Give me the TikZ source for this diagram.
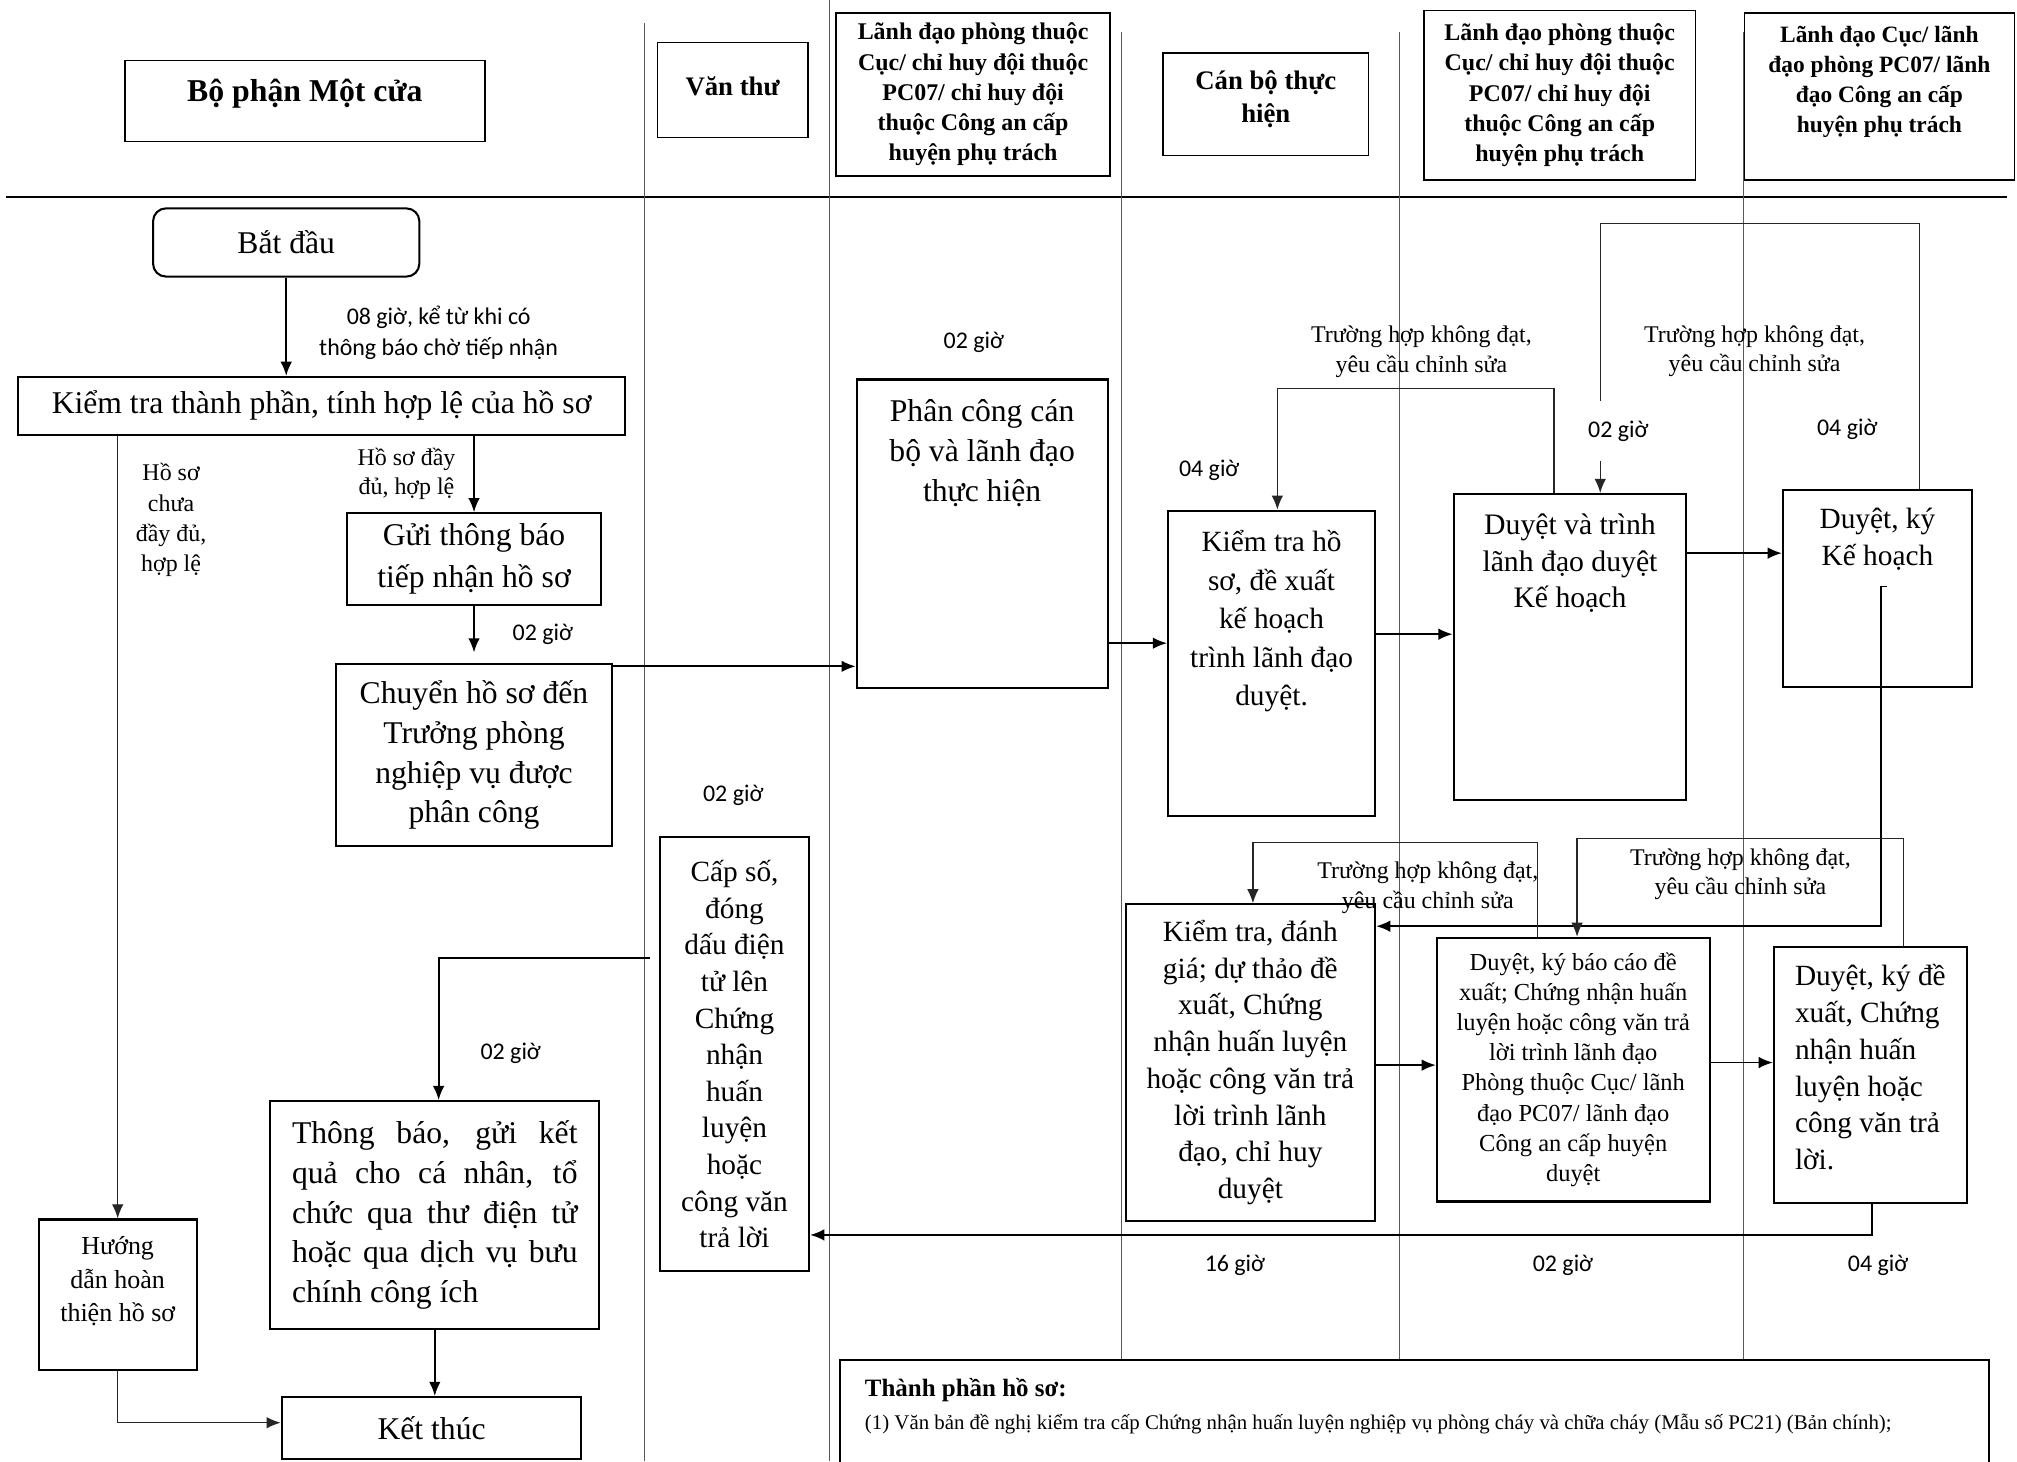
\documentclass[tikz,border=0pt]{standalone}
\usepackage{fontspec}
\setmainfont{Liberation Serif}
\newfontfamily\calfont{Carlito}
\usetikzlibrary{arrows.meta}
\setlength\parindent{0pt}
% push a centred text block upwards inside its box
\newcommand\raiseblock[1]{\rule[-#1]{0pt}{0pt}}
\begin{document}
\begin{tikzpicture}[x=0.5pt,y=-0.5pt,
  box/.style={draw, line width=0.8pt, inner sep=0pt, align=center, fill=white},
  head/.style={box, line width=0.6pt, font=\bfseries\fontsize{9.3}{11.75}\selectfont},
  lane/.style={draw=black!65, line width=0.4pt},
  flow/.style={line width=0.7pt, -{Latex[length=5.5pt,width=4.5pt]}},
  backflow/.style={line width=0.5pt, draw=black!85, -{Latex[length=5.5pt,width=4.5pt]}},
  hourlbl/.style={font=\calfont\fontsize{9.3}{12}\selectfont, inner sep=1pt, align=center},
  revnote/.style={font=\fontsize{9.3}{11.5}\selectfont, align=center, inner sep=0pt},
]
\useasboundingbox (0,0) rectangle (1568,1136);

% ---- swimlane grid ----
\draw[line width=0.7pt] (5,153) -- (1560,153);
\draw[lane] (501,18) -- (501,1136);
\draw[lane] (645,0) -- (645,1136);
\draw[lane] (872,25) -- (872,1057);
\draw[lane] (1088,25) -- (1088,1057);
\draw[lane] (1355,25) -- (1355,1057);

% ---- lane headers ----
\node[head, font=\bfseries\fontsize{12.35}{14}\selectfont, minimum width=140pt, minimum height=31.5pt] (h1) at (237,78.5) {Bộ phận Một cửa\raiseblock{8pt}};
\node[head, font=\bfseries\fontsize{10.4}{13}\selectfont, minimum width=58.5pt, minimum height=37pt] (h2) at (569.5,70) {Văn thư\raiseblock{3pt}};
\node[head, minimum width=106.5pt, minimum height=63.5pt] (h3) at (756.5,73.5) {Lãnh đạo phòng thuộc\\Cục/ chỉ huy đội thuộc\\PC07/ chỉ huy đội\\thuộc Công an cấp\\huyện phụ trách};
\node[head, font=\bfseries\fontsize{10.4}{13}\selectfont, minimum width=80pt, minimum height=40pt] (h4) at (984,81) {Cán bộ thực\\hiện\raiseblock{6pt}};
\node[head, minimum width=105.5pt, minimum height=66pt] (h5) at (1212.5,74) {Lãnh đạo phòng thuộc\\Cục/ chỉ huy đội thuộc\\PC07/ chỉ huy đội\\thuộc Công an cấp\\huyện phụ trách};
\node[head, font=\bfseries\fontsize{9.1}{11.65}\selectfont, minimum width=105pt, minimum height=65pt] (h6) at (1461,75) {Lãnh đạo Cục/ lãnh\\đạo phòng PC07/ lãnh\\đạo Công an cấp\\huyện phụ trách\raiseblock{13pt}};

% ---- process steps ----
\node[box, rounded corners=5pt, font=\fontsize{12.3}{15}\selectfont, minimum width=103.5pt, minimum height=26.5pt] (start) at (222.5,188.5) {Bắt đầu};
\node[box, font=\fontsize{12.3}{15}\selectfont, minimum width=236pt, minimum height=22.5pt] (check) at (250,315.5) {Kiểm tra thành phần, tính hợp lệ của hồ sơ};
\node[box, font=\fontsize{12.3}{16}\selectfont, minimum width=98.5pt, minimum height=35.5pt] (notify) at (368.5,434.5) {Gửi thông báo\\tiếp nhận hồ sơ};
\node[box, font=\fontsize{12.3}{15.5}\selectfont, minimum width=107.5pt, minimum height=71pt] (forward) at (368.5,587) {Chuyển hồ sơ đến\\Trưởng phòng\\nghiệp vụ được\\phân công};
\node[box, font=\fontsize{12.3}{15.5}\selectfont, minimum width=97.5pt, minimum height=120pt] (assign) at (763.5,415) {Phân công cán\\bộ và lãnh đạo\\thực hiện\raiseblock{65pt}};
\node[box, font=\fontsize{11.4}{15}\selectfont, minimum width=80.5pt, minimum height=118.5pt] (review) at (988.5,515.5) {Kiểm tra hồ\\sơ, đề xuất\\kế hoạch\\trình lãnh đạo\\duyệt.\raiseblock{35pt}};
\node[box, font=\fontsize{11.55}{14.25}\selectfont, minimum width=90.5pt, minimum height=119pt] (submit) at (1220.5,503) {Duyệt và trình\\lãnh đạo duyệt\\Kế hoạch\raiseblock{67pt}};
\node[box, font=\fontsize{11.4}{14.5}\selectfont, minimum width=73.5pt, minimum height=76.5pt] (signplan) at (1459.5,457.5) {Duyệt, ký\\Kế hoạch\raiseblock{40pt}};
\node[box, font=\fontsize{11.4}{14.3}\selectfont, minimum width=97pt, minimum height=123pt] (assess) at (972,826) {Kiểm tra, đánh\\giá; dự thảo đề\\xuất, Chứng\\nhận huấn luyện\\hoặc công văn trả\\lời trình lãnh\\đạo, chỉ huy\\duyệt};
\node[box, font=\fontsize{9.5}{11.75}\selectfont, minimum width=106pt, minimum height=102.5pt] (report) at (1223,831.5) {Duyệt, ký báo cáo đề\\xuất; Chứng nhận huấn\\luyện hoặc công văn trả\\lời trình lãnh đạo\\Phòng thuộc Cục/ lãnh\\đạo PC07/ lãnh đạo\\Công an cấp huyện\\duyệt};
\node[box, font=\fontsize{11.4}{14.3}\selectfont, minimum width=75pt, minimum height=99.5pt, align=left] (signcert) at (1454,835.5) {Duyệt, ký đề\\xuất, Chứng\\nhận huấn\\luyện hoặc\\công văn trả\\lời.\raiseblock{6pt}};
\node[box, font=\fontsize{11.4}{14.25}\selectfont, minimum width=58pt, minimum height=168.5pt] (stamp) at (571,819.5) {Cấp số,\\đóng\\dấu điện\\tử lên\\Chứng\\nhận\\huấn\\luyện\\hoặc\\công văn\\trả lời};
\node[box, font=\fontsize{12.3}{15.5}\selectfont, minimum width=128pt, minimum height=88.5pt, align=justify, text width=111pt] (result) at (338,944.5) {Thông báo, gửi kết\linebreak quả cho cá nhân, tổ\linebreak chức qua thư điện tử\linebreak hoặc qua dịch vụ bưu\linebreak chính công ích};
\node[box, font=\fontsize{12.3}{15}\selectfont, minimum width=116.5pt, minimum height=24pt] (finish) at (335.5,1110) {Kết thúc};
\node[box, font=\fontsize{10.1}{13}\selectfont, minimum width=61.5pt, minimum height=58.5pt] (guide) at (91.5,1006.5) {Hướng\\dẫn hoàn\\thiện hồ sơ\raiseblock{12pt}};

% ---- document list ----
\node[box, minimum width=446.5pt, minimum height=46.5pt] (docs) at (1099.5,1103.5) {};
\node[anchor=west, inner sep=0pt, font=\bfseries\fontsize{9.7}{11}\selectfont] (docstitle) at (672,1081) {Thành phần hồ sơ:};
\node[anchor=west, inner sep=0pt, font=\fontsize{8.1}{10}\selectfont] (docsitem) at (672,1107) {(1) Văn bản đề nghị kiểm tra cấp Chứng nhận huấn luyện nghiệp vụ phòng cháy và chữa cháy (Mẫu số PC21) (Bản chính);};

% ---- connectors ----
\coordinate (planout) at (1462,456);
\coordinate (stampout) at (505,745);

\draw[flow] (start.south) -- (start.south |- check.north);
\draw[backflow] (guide.north |- check.south) -- (guide.north);
\draw[flow] (notify.north |- check.south) -- (notify.north);
\draw[flow, shorten >=4pt] (notify.south) -- (forward.north);
\draw[flow] (forward.north east |- 0,518) -- (assign.west |- 0,518);
\draw[flow] (assign.east |- 0,500) -- (review.west |- 0,500);
\draw[flow] (review.east |- 0,493) -- (submit.west |- 0,493);
\draw[backflow] (submit.north -| 1208,0) |- (993,302) -- (review.north -| 993,0);
\draw[flow] (submit.east |- 0,430) -- (signplan.west |- 0,430);
\draw[backflow] (signplan.north -| 1492,0) |- (1244,174) -- (submit.north -| 1244,0);
\draw[flow] ([xshift=2.5pt]planout) -- (planout) -- (1462,720) -- (assess.east |- 0,720);
\draw[backflow] (report.north -| 1195,0) |- (974,655) -- (assess.north -| 974,0);
\draw[backflow] (signcert.north -| 1480,0) |- (1226,652) -- (report.north -| 1226,0);
\draw[flow] (assess.east |- 0,828) -- (report.west |- 0,828);
\draw[flow] (report.east |- 0,826) -- (signcert.west |- 0,826);
\draw[flow] (signcert.south -| 1455,0) |- (stamp.east |- 0,960);
\draw[flow] (stampout) -| (result.north -| 341,0);
\draw[flow] (result.south) -- (result.south |- finish.north);
\draw[backflow] (guide.south) |- (finish.west |- 0,1106);

% ---- labels ----
\node[hourlbl] (t08) at (341,259) {08 giờ, kể từ khi có\\thông báo chờ tiếp nhận};
\node[revnote, font=\fontsize{9.3}{11.8}\selectfont] (notready) at (133,404.5) {Hồ sơ\\chưa\\đầy đủ,\\hợp lệ};
\node[revnote] (ready) at (316,368.5) {Hồ sơ đầy\\đủ, hợp lệ};
\node[hourlbl] (t02a) at (422,493) {02 giờ};
\node[hourlbl] (t02b) at (757,266) {02 giờ};
\node[hourlbl] (t04a) at (940,366) {04 giờ};
\node[revnote] (redo1) at (1105,273.5) {Trường hợp không đạt,\\yêu cầu chỉnh sửa};
\node[revnote] (redo2) at (1364,273) {Trường hợp không đạt,\\yêu cầu chỉnh sửa};
\node[hourlbl, fill=white, minimum height=23pt] (t02c) at (1258,335) {02 giờ};
\node[hourlbl] (t04b) at (1436,334) {04 giờ};
\node[revnote] (redo3) at (1110,690) {Trường hợp không đạt,\\yêu cầu chỉnh sửa};
\node[revnote] (redo4) at (1353,679.5) {Trường hợp không đạt,\\yêu cầu chỉnh sửa};
\node[hourlbl] (t02d) at (570,618) {02 giờ};
\node[hourlbl] (t02e) at (397,819) {02 giờ};
\node[hourlbl] (t16) at (960,984) {16 giờ};
\node[hourlbl] (t02f) at (1215,984) {02 giờ};
\node[hourlbl] (t04c) at (1460,984) {04 giờ};
\end{tikzpicture}
\end{document}
